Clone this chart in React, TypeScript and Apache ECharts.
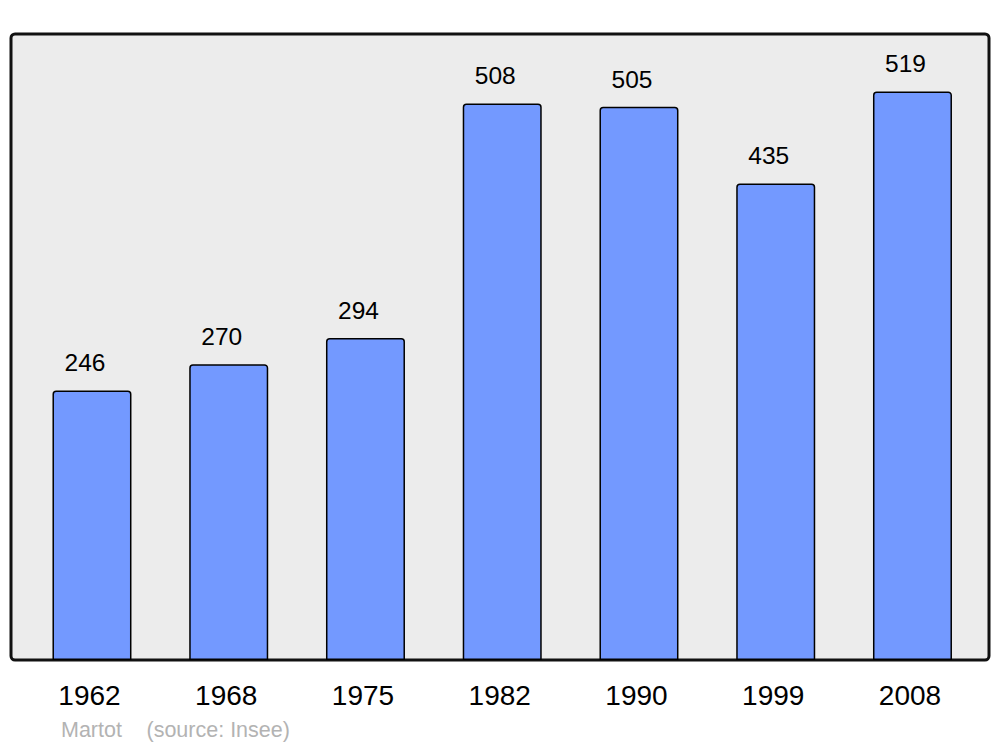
import React, { useEffect, useRef } from "react";
import * as echarts from "echarts";

const years = ["1962", "1968", "1975", "1982", "1990", "1999", "2008"];
const population = [246, 270, 294, 508, 505, 435, 519];
const author = "Martot";
const source = "(source: Insee)";

export default function App() {
  const ref = useRef<HTMLDivElement>(null);
  useEffect(() => {
    if (!ref.current) return;
    const chart = echarts.init(ref.current, null, { renderer: "svg" });
    chart.setOption({
      animation: false,
      textStyle: { fontFamily: "Liberation Sans, Arial, sans-serif" },
      grid: { left: 23.6, width: 957.25, top: 34, height: 626 },
      xAxis: {
        type: "category",
        data: years,
        axisLine: { show: false },
        axisTick: { show: false },
        axisLabel: {
          color: "#000",
          fontSize: 28,
          margin: 21,
          fontFamily: "Liberation Sans, Arial, sans-serif",
          padding: [0, 5, 0, 0],
        },
      },
      yAxis: {
        type: "value",
        min: 0,
        max: 571.4,
        show: false,
        splitLine: { show: false },
      },
      graphic: [
        {
          type: "rect",
          z: -10,
          shape: { x: 11, y: 34, width: 978, height: 626, r: 4 },
          style: { fill: "#ececec", stroke: "#111", lineWidth: 3 },
        },
        {
          type: "text",
          x: 61,
          y: 719,
          style: {
            text: author,
            fill: "#b3b3b3",
            fontSize: 21.5,
            fontFamily: "Liberation Sans, Arial, sans-serif",
          },
        },
        {
          type: "text",
          x: 146.5,
          y: 719,
          style: {
            text: source,
            fill: "#b3b3b3",
            fontSize: 21.5,
            fontFamily: "Liberation Sans, Arial, sans-serif",
          },
        },
      ],
      series: [
        {
          type: "bar",
          data: population,
          barWidth: 79,
          itemStyle: {
            color: "#7399ff",
            borderColor: "#000",
            borderWidth: 1.5,
            borderRadius: [3, 3, 0, 0],
          },
          label: {
            show: true,
            position: "top",
            distance: 15,
            offset: [-7, 0],
            color: "#000",
            fontSize: 24.5,
            fontFamily: "Liberation Sans, Arial, sans-serif",
          },
        },
      ],
    });
    return () => chart.dispose();
  }, []);
  return (
    <div
      ref={ref}
      style={{ position: "fixed", left: 0, top: 0, width: 1000, height: 747, background: "#fff" }}
    />
  );
}
